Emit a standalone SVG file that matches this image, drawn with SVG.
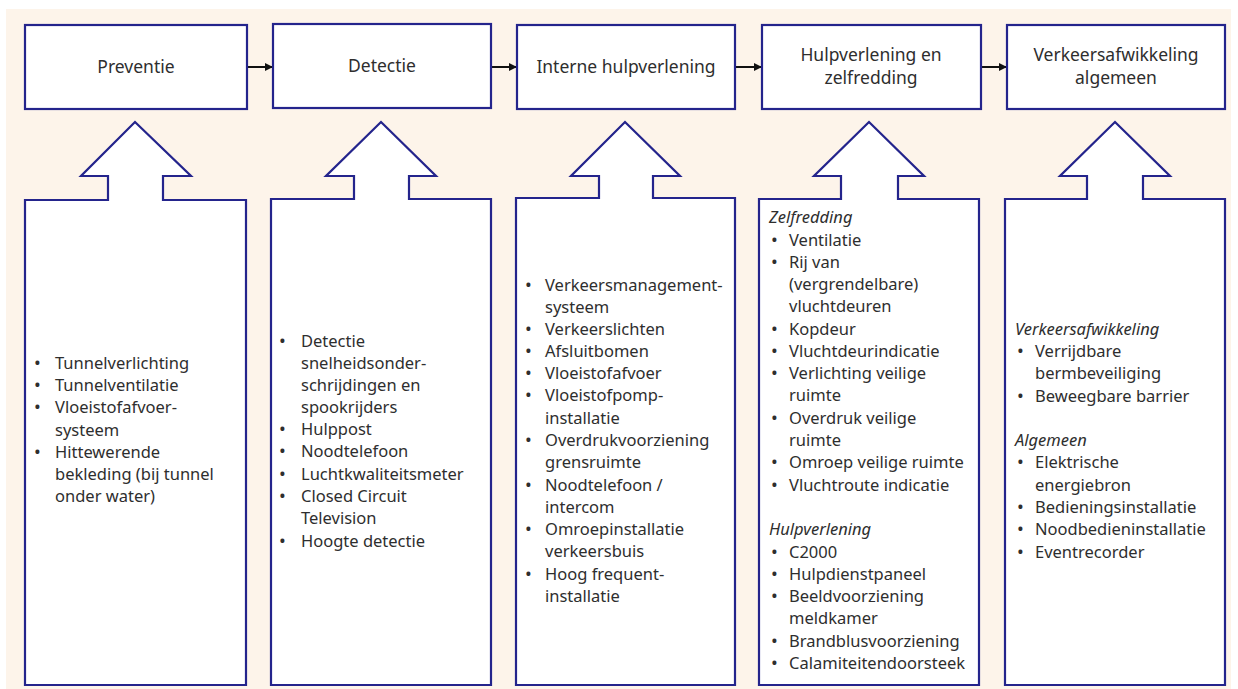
<svg xmlns="http://www.w3.org/2000/svg" width="1238" height="689" viewBox="0 0 1238 689">
<defs>
<style>
.box{fill:#fff;stroke:#24248c;stroke-width:2.2}
.t{font-family:"Noto Sans","Liberation Sans",sans-serif;font-size:16.5px;fill:#2e2e2e}
.b{font-size:18px}
.h{font-family:"Noto Sans","Liberation Sans",sans-serif;font-size:17.5px;fill:#2e2e2e;text-anchor:middle}
.i{font-style:italic}
.con{stroke:#111;stroke-width:2;fill:none}
</style>
<marker id="ah" markerWidth="10" markerHeight="10" refX="8" refY="4.5" orient="auto" markerUnits="userSpaceOnUse">
<path d="M0,0.5 L8,4.5 L0,8.5 Z" fill="#111"/>
</marker>
</defs>
<rect x="6" y="9" width="1225" height="680" fill="#fdf4ea"/>

<g id="connectors">
<line class="con" x1="248" y1="67" x2="273" y2="67" marker-end="url(#ah)"/>
<line class="con" x1="492" y1="67" x2="517" y2="67" marker-end="url(#ah)"/>
<line class="con" x1="736" y1="67" x2="762" y2="67" marker-end="url(#ah)"/>
<line class="con" x1="982" y1="67" x2="1007" y2="67" marker-end="url(#ah)"/>
</g>

<g id="preventie">
<rect class="box" x="25" y="25" width="222" height="84"/>
<text class="h" x="136" y="73">Preventie</text>
</g>
<g id="detectie">
<rect class="box" x="273" y="24" width="218" height="84"/>
<text class="h" x="382" y="72">Detectie</text>
</g>
<g id="interne">
<rect class="box" x="517" y="25" width="218" height="84"/>
<text class="h" x="626" y="73">Interne hulpverlening</text>
</g>
<g id="hulpverlening">
<rect class="box" x="762" y="25" width="219" height="84"/>
<text class="h" x="871" y="61">Hulpverlening en</text>
<text class="h" x="871" y="84">zelfredding</text>
</g>
<g id="verkeer">
<rect class="box" x="1007" y="25" width="218" height="84"/>
<text class="h" x="1116" y="61">Verkeersafwikkeling</text>
<text class="h" x="1116" y="84">algemeen</text>
</g>

<g id="preventie-list">
<path class="box" d="M25,200 H108 V176 H81 L135,122 L191,176 H163 V200 H246 V685 H25 Z"/>
<text class="t">
<tspan class="b" x="34" y="369">•</tspan><tspan x="55" y="369">Tunnelverlichting</tspan>
<tspan class="b" x="34" y="391">•</tspan><tspan x="55" y="391">Tunnelventilatie</tspan>
<tspan class="b" x="34" y="413">•</tspan><tspan x="55" y="413">Vloeistofafvoer-</tspan>
<tspan x="55" y="436">systeem</tspan>
<tspan class="b" x="34" y="458">•</tspan><tspan x="55" y="458">Hittewerende</tspan>
<tspan x="55" y="480">bekleding (bij tunnel</tspan>
<tspan x="55" y="502">onder water)</tspan>
</text>
</g>

<g id="detectie-list">
<path class="box" d="M271,199 H354 V176 H326 L381,122 L436,176 H409 V199 H491 V685 H271 Z"/>
<text class="t">
<tspan class="b" x="279" y="347">•</tspan><tspan x="301" y="347">Detectie</tspan>
<tspan x="301" y="369">snelheidsonder-</tspan>
<tspan x="301" y="391">schrijdingen en</tspan>
<tspan x="301" y="413">spookrijders</tspan>
<tspan class="b" x="279" y="435">•</tspan><tspan x="301" y="435">Hulppost</tspan>
<tspan class="b" x="279" y="457">•</tspan><tspan x="301" y="457">Noodtelefoon</tspan>
<tspan class="b" x="279" y="480">•</tspan><tspan x="301" y="480">Luchtkwaliteitsmeter</tspan>
<tspan class="b" x="279" y="502">•</tspan><tspan x="301" y="502">Closed Circuit</tspan>
<tspan x="301" y="524">Television</tspan>
<tspan class="b" x="279" y="547">•</tspan><tspan x="301" y="547">Hoogte detectie</tspan>
</text>
</g>

<g id="interne-list">
<path class="box" d="M516,198 H599 V176 H571 L625,122 L680,176 H653 V198 H735 V685 H516 Z"/>
<text class="t">
<tspan class="b" x="525" y="291">•</tspan><tspan x="545" y="291">Verkeersmanagement-</tspan>
<tspan x="545" y="313">systeem</tspan>
<tspan class="b" x="525" y="335">•</tspan><tspan x="545" y="335">Verkeerslichten</tspan>
<tspan class="b" x="525" y="357">•</tspan><tspan x="545" y="357">Afsluitbomen</tspan>
<tspan class="b" x="525" y="379">•</tspan><tspan x="545" y="379">Vloeistofafvoer</tspan>
<tspan class="b" x="525" y="401">•</tspan><tspan x="545" y="401">Vloeistofpomp-</tspan>
<tspan x="545" y="424">installatie</tspan>
<tspan class="b" x="525" y="446">•</tspan><tspan x="545" y="446">Overdrukvoorziening</tspan>
<tspan x="545" y="468">grensruimte</tspan>
<tspan class="b" x="525" y="491">•</tspan><tspan x="545" y="491">Noodtelefoon /</tspan>
<tspan x="545" y="513">intercom</tspan>
<tspan class="b" x="525" y="535">•</tspan><tspan x="545" y="535">Omroepinstallatie</tspan>
<tspan x="545" y="557">verkeersbuis</tspan>
<tspan class="b" x="525" y="580">•</tspan><tspan x="545" y="580">Hoog frequent-</tspan>
<tspan x="545" y="602">installatie</tspan>
</text>
</g>

<g id="hulpverlening-list">
<path class="box" d="M759,199 H841 V176 H814 L869,122 L924,176 H898 V199 H979 V685 H759 Z"/>
<text class="t">
<tspan class="i" x="769" y="223">Zelfredding</tspan>
<tspan class="b" x="771" y="246">•</tspan><tspan x="789" y="246">Ventilatie</tspan>
<tspan class="b" x="771" y="268">•</tspan><tspan x="789" y="268">Rij van</tspan>
<tspan x="789" y="290">(vergrendelbare)</tspan>
<tspan x="789" y="312">vluchtdeuren</tspan>
<tspan class="b" x="771" y="335">•</tspan><tspan x="789" y="335">Kopdeur</tspan>
<tspan class="b" x="771" y="357">•</tspan><tspan x="789" y="357">Vluchtdeurindicatie</tspan>
<tspan class="b" x="771" y="379">•</tspan><tspan x="789" y="379">Verlichting veilige</tspan>
<tspan x="789" y="401">ruimte</tspan>
<tspan class="b" x="771" y="424">•</tspan><tspan x="789" y="424">Overdruk veilige</tspan>
<tspan x="789" y="446">ruimte</tspan>
<tspan class="b" x="771" y="468">•</tspan><tspan x="789" y="468">Omroep veilige ruimte</tspan>
<tspan class="b" x="771" y="491">•</tspan><tspan x="789" y="491">Vluchtroute indicatie</tspan>
<tspan class="i" x="769" y="535">Hulpverlening</tspan>
<tspan class="b" x="771" y="558">•</tspan><tspan x="789" y="558">C2000</tspan>
<tspan class="b" x="771" y="580">•</tspan><tspan x="789" y="580">Hulpdienstpaneel</tspan>
<tspan class="b" x="771" y="602">•</tspan><tspan x="789" y="602">Beeldvoorziening</tspan>
<tspan x="789" y="624">meldkamer</tspan>
<tspan class="b" x="771" y="647">•</tspan><tspan x="789" y="647">Brandblusvoorziening</tspan>
<tspan class="b" x="771" y="669">•</tspan><tspan x="789" y="669">Calamiteitendoorsteek</tspan>
</text>
</g>

<g id="verkeer-list">
<path class="box" d="M1005,199 H1087 V176 H1060 L1115,122 L1170,176 H1143 V199 H1225 V685 H1005 Z"/>
<text class="t">
<tspan class="i" x="1015" y="335">Verkeersafwikkeling</tspan>
<tspan class="b" x="1017" y="357">•</tspan><tspan x="1035" y="357">Verrijdbare</tspan>
<tspan x="1035" y="379">bermbeveiliging</tspan>
<tspan class="b" x="1017" y="402">•</tspan><tspan x="1035" y="402">Beweegbare barrier</tspan>
<tspan class="i" x="1015" y="446">Algemeen</tspan>
<tspan class="b" x="1017" y="468">•</tspan><tspan x="1035" y="468">Elektrische</tspan>
<tspan x="1035" y="491">energiebron</tspan>
<tspan class="b" x="1017" y="513">•</tspan><tspan x="1035" y="513">Bedieningsinstallatie</tspan>
<tspan class="b" x="1017" y="535">•</tspan><tspan x="1035" y="535">Noodbedieninstallatie</tspan>
<tspan class="b" x="1017" y="558">•</tspan><tspan x="1035" y="558">Eventrecorder</tspan>
</text>
</g>
</svg>
